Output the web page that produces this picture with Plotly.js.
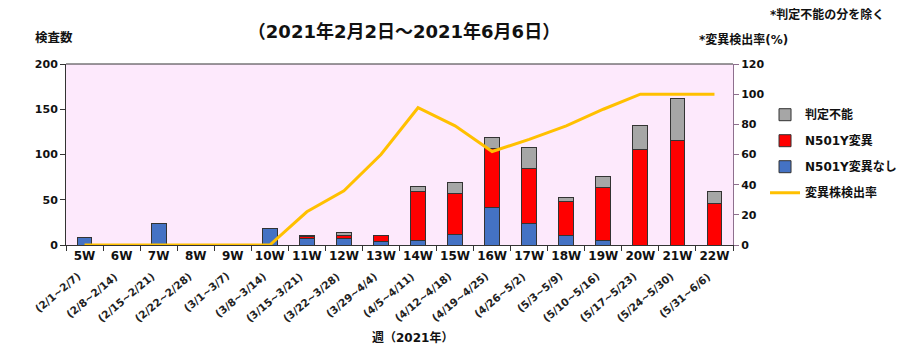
<!DOCTYPE html>
<html><head><meta charset="utf-8">
<script src="https://cdn.plot.ly/plotly-3.0.1.min.js"></script>
<style>body{margin:0;background:#fff}#c{width:912px;height:354px}</style>
</head><body><div id="c"></div>
<script>
const weeks = ["5W","6W","7W","8W","9W","10W","11W","12W","13W","14W","15W","16W","17W","18W","19W","20W","21W","22W"];
const dates = ["(2/1~2/7)","(2/8~2/14)","(2/15~2/21)","(2/22~2/28)","(3/1~3/7)","(3/8~3/14)","(3/15~3/21)","(3/22~3/28)","(3/29~4/4)","(4/5~4/11)","(4/12~4/18)","(4/19~4/25)","(4/26~5/2)","(5/3~5/9)","(5/10~5/16)","(5/17~5/23)","(5/24~5/30)","(5/31~6/6)"];
const noMutation = [8,0,24,0,0,18,7,7,4,5,12,41,24,10,5,0,0,0];
const n501y      = [0,0,0,0,0,0,2,4,6,54,45,66,60,38,59,106,116,46];
const undetermined = [0,0,0,0,0,0,2,3,1,6,12,12,24,4,12,26,46,13];
const rate = [0,0,0,0,0,0,22,36,60,91,79,62,70,79,90,100,100,100];

const FONT = "Verdana, 'DejaVu Sans', 'Noto Sans CJK JP', sans-serif";
const bold = t => "<b>" + t + "</b>";
const edge = {color:"#333", width:1};

const traces = [
  {type:"bar", name:bold("N501Y変異なし"), x:weeks, y:noMutation, marker:{color:"#4472C4", line:edge}, legendrank:3, legendgroup:"c"},
  {type:"bar", name:bold("N501Y変異"), x:weeks, y:n501y, marker:{color:"#FF0000", line:edge}, legendrank:2, legendgroup:"b"},
  {type:"bar", name:bold("判定不能"), x:weeks, y:undetermined, marker:{color:"#A6A6A6", line:edge}, legendrank:1, legendgroup:"a"},
  {type:"scatter", mode:"lines", name:bold("変異株検出率"), x:weeks, y:rate, yaxis:"y2", line:{color:"#FFC000", width:3}, legendrank:4, legendgroup:"d"}
];

const W=912,H=354, L=66, R=179, T=64, B=109;
const annotations = dates.map((d,i)=>({
  x: weeks[i], y:0, xref:"x", yref:"paper", text:bold(d), showarrow:false,
  textangle:-40, xanchor:"right", yanchor:"top", xshift:1, yshift:-22,
  font:{size:10.5, color:"#222", family:FONT}
}));
const extra = [
  {text:bold("週（2021年）"), px:412, py:337, size:12},
  {text:bold("検査数"), px:54, py:37, size:12.5},
  {text:bold("*変異検出率(%)"), px:743, py:40, size:12},
  {text:bold("*判定不能の分を除く"), px:827, py:15, size:12}
];
extra.forEach(e=>annotations.push({text:e.text,
  x:(e.px-L)/(W-L-R), y:(H-B-e.py)/(H-T-B), xref:"paper", yref:"paper",
  showarrow:false, xanchor:"center", yanchor:"middle", font:{size:e.size, color:"#111", family:FONT}}));

const layout = {
  width:W, height:H, margin:{l:L, r:R, t:T, b:B, autoexpand:false},
  paper_bgcolor:"#fff", plot_bgcolor:"#FDE9FC",
  font:{family:FONT, color:"#111"},
  barmode:"stack", bargap:0.6,
  showlegend:true,
  legend:{x:1.048, y:0.80, xanchor:"left", yanchor:"top", traceorder:"grouped",
    font:{size:12, family:FONT}, tracegroupgap:7, itemwidth:30, bgcolor:"rgba(0,0,0,0)"},
  title:{text:bold("（2021年2月2日～2021年6月6日）"), x:404/912, xanchor:"center", y:1-32/354, yanchor:"middle", yref:"container",
    font:{size:18, family:FONT, color:"#111"}},
  xaxis:{type:"category", range:[-0.5, weeks.length-0.5], autorange:false, tickangle:0,
    tickfont:{size:12, family:FONT, color:"#111"}, ticks:"outside", tickson:"boundaries",
    ticklen:5, tickcolor:"#333", showline:true, linecolor:"#333", linewidth:1, showgrid:false,
    tickvals:weeks, ticktext:weeks.map(bold)},
  yaxis:{range:[0,200], ticks:"outside", ticklen:5, tickcolor:"#333", showline:true, linecolor:"#333",
    showgrid:false, zeroline:false, tickfont:{size:11, family:FONT, color:"#111"},
    tickvals:[0,50,100,150,200], ticktext:[0,50,100,150,200].map(v=>bold(v))},
  yaxis2:{range:[0,120], overlaying:"y", side:"right", ticks:"outside", ticklen:5, tickcolor:"#8E6F8E",
    showline:true, linecolor:"#8E6F8E", linewidth:1, showgrid:false, zeroline:false,
    tickfont:{size:11, family:FONT, color:"#111"},
    tickvals:[0,20,40,60,80,100,120], ticktext:[0,20,40,60,80,100,120].map(v=>bold(v))},
  shapes:[{type:"line", xref:"paper", yref:"paper", x0:0, x1:1, y0:1, y1:1, line:{color:"#333", width:1}}],
  annotations:annotations
};
Plotly.newPlot("c", traces, layout, {displayModeBar:false, staticPlot:true});
</script></body></html>
